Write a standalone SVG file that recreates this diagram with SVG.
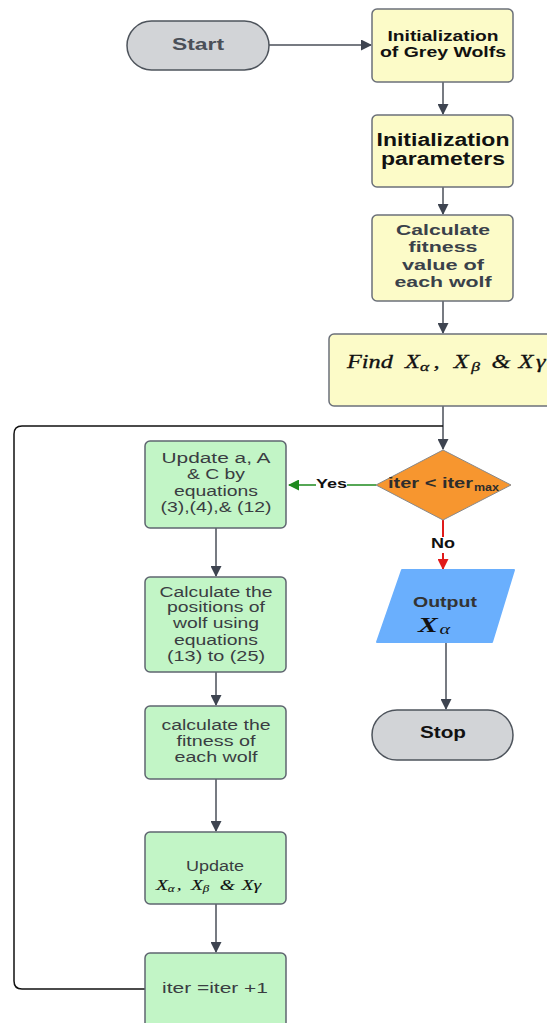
<svg xmlns="http://www.w3.org/2000/svg" width="547" height="1023" viewBox="0 0 547 1023">
<style>
.y{fill:#fcfbc8;stroke:#6b7079;stroke-width:1.5}
.g{fill:#c2f5c6;stroke:#5f6570;stroke-width:1.5}
.p{fill:#d2d4d7;stroke:#4e545c;stroke-width:1.5}
.b{font-family:"Liberation Sans",Arial,sans-serif;font-weight:bold;text-anchor:middle}
.r{font-family:"Liberation Sans",Arial,sans-serif;text-anchor:middle;fill:#3a3d42;font-size:14px}
.m{font-family:"Liberation Serif","Times New Roman",serif;font-style:italic}
.c{fill:none;stroke:#4a4f58;stroke-width:1.5}
</style>
<defs>
<marker id="a" markerWidth="11" markerHeight="11" refX="10" refY="5.5" orient="auto" markerUnits="userSpaceOnUse"><path d="M0,0 L11,5.5 L0,11 z" fill="#3e4450"/></marker>
<marker id="ag" markerWidth="11" markerHeight="11" refX="10" refY="5.5" orient="auto" markerUnits="userSpaceOnUse"><path d="M0,0 L11,5.5 L0,11 z" fill="#1f8a1f"/></marker>
<marker id="ar" markerWidth="11" markerHeight="11" refX="10" refY="5.5" orient="auto" markerUnits="userSpaceOnUse"><path d="M0,0 L11,5.5 L0,11 z" fill="#e01b1b"/></marker>
</defs>
<g id="connectors">
<path class="c" d="M269,45 H371" marker-end="url(#a)" stroke-width="1"/>
<path class="c" d="M443,82 V114" marker-end="url(#a)" stroke-width="2"/>
<path class="c" d="M443,187 V214" marker-end="url(#a)"/>
<path class="c" d="M443,301 V333" marker-end="url(#a)"/>
<path class="c" d="M443,406 V449" marker-end="url(#a)"/>
<path d="M145,989 H22 Q14,989 14,981 V434 Q14,426 22,426 H443" fill="none" stroke="#111" stroke-width="1.5"/>
<path d="M376,485 H347 M316,485 H289" fill="none" stroke="#1f8a1f" stroke-width="1.5" marker-end="url(#ag)"/>
<text x="331.5" y="488" class="b" font-size="13" fill="#111" textLength="31" lengthAdjust="spacingAndGlyphs">Yes</text>
<path d="M443,520 V537 M443,553 V569" fill="none" stroke="#e01b1b" stroke-width="2" marker-end="url(#ar)"/>
<text x="443" y="548" class="b" font-size="14" fill="#111" textLength="24" lengthAdjust="spacingAndGlyphs">No</text>
<path class="c" d="M446,642 V709" marker-end="url(#a)"/>
<path class="c" d="M216,528 V576" marker-end="url(#a)"/>
<path class="c" d="M216,672 V705" marker-end="url(#a)"/>
<path class="c" d="M216,779 V831" marker-end="url(#a)"/>
<path class="c" d="M216,904 V952" marker-end="url(#a)"/>
</g>
<g id="start">
<rect x="127" y="21" width="142" height="49" rx="24.5" class="p"/>
<text x="198" y="50" class="b" font-size="17" fill="#4a4f58" textLength="52" lengthAdjust="spacingAndGlyphs">Start</text>
</g>
<g id="init-wolves">
<rect x="372" y="9" width="141" height="73" rx="5" class="y" stroke="#111" stroke-width="2"/>
<text x="443" y="41" class="b" font-size="14" fill="#111" textLength="111" lengthAdjust="spacingAndGlyphs">Initialization</text>
<text x="443" y="57" class="b" font-size="14" fill="#111" textLength="126" lengthAdjust="spacingAndGlyphs">of Grey Wolfs</text>
</g>
<g id="init-params">
<rect x="372" y="115" width="141" height="72" rx="5" class="y"/>
<text x="443" y="146" class="b" font-size="18" fill="#111" textLength="133" lengthAdjust="spacingAndGlyphs">Initialization</text>
<text x="443" y="165" class="b" font-size="18" fill="#111" textLength="124" lengthAdjust="spacingAndGlyphs">parameters</text>
</g>
<g id="calc-fitness">
<rect x="372" y="215" width="141" height="86" rx="5" class="y"/>
<text x="443" y="235" class="b" font-size="15" fill="#3a414a" textLength="94" lengthAdjust="spacingAndGlyphs">Calculate</text>
<text x="443" y="252" class="b" font-size="15" fill="#3a414a" textLength="69" lengthAdjust="spacingAndGlyphs">fitness</text>
<text x="443" y="270" class="b" font-size="15" fill="#3a414a" textLength="82" lengthAdjust="spacingAndGlyphs">value of</text>
<text x="443" y="287" class="b" font-size="15" fill="#3a414a" textLength="97" lengthAdjust="spacingAndGlyphs">each wolf</text>
</g>
<g id="find">
<rect x="329" y="334" width="230" height="72" rx="5" class="y"/>
<g transform="translate(347,368) scale(1.35,1)">
<text class="m" font-size="18" fill="#111" stroke="#111" stroke-width="0.3"><tspan x="0" y="0">Find</tspan><tspan x="43" y="0">X</tspan><tspan x="54" y="3" font-size="13">α</tspan><tspan x="64" y="0">,</tspan><tspan x="79" y="0">X</tspan><tspan x="92" y="3" font-size="13">β</tspan><tspan x="107" y="0">&amp;</tspan><tspan x="127" y="0">X</tspan><tspan x="140" y="0">γ</tspan></text>
</g>
</g>
<g id="decision">
<path d="M443,450 L511,485 L443,520 L376,485 Z" fill="#f7962f" stroke="#888" stroke-width="1" stroke-linejoin="round"/>
<text x="388" y="488" font-family="Liberation Sans,Arial,sans-serif" font-weight="bold" font-size="14" fill="#2d2d2d" textLength="85" lengthAdjust="spacingAndGlyphs">iter &lt; iter</text>
<text x="474" y="491" font-family="Liberation Sans,Arial,sans-serif" font-weight="bold" font-size="10" fill="#2d2d2d" textLength="25" lengthAdjust="spacingAndGlyphs">max</text>
</g>
<g id="output">
<path d="M402,570 H514 L492,642 H377 Z" fill="#6aaffd" stroke="#6aaffd" stroke-width="2" stroke-linejoin="round"/>
<text x="445" y="607" class="b" font-size="15" fill="#333" textLength="64" lengthAdjust="spacingAndGlyphs">Output</text>
<g transform="translate(418,632) scale(1.35,1)">
<text class="m" font-weight="bold" fill="#111"><tspan x="0" y="0" font-size="22">X</tspan><tspan x="16" y="2" font-size="15" font-weight="normal">α</tspan></text>
</g>
</g>
<g id="stop">
<rect x="372" y="710" width="141" height="50" rx="25" class="p"/>
<text x="443" y="738" class="b" font-size="16" fill="#111" textLength="46" lengthAdjust="spacingAndGlyphs">Stop</text>
</g>
<g id="update-aAC">
<rect x="145" y="441" width="141" height="87" rx="5" class="g"/>
<text x="216" y="463" class="r" textLength="109" lengthAdjust="spacingAndGlyphs">Update  a, A</text>
<text x="216" y="479" class="r" textLength="58" lengthAdjust="spacingAndGlyphs">&amp; C by</text>
<text x="216" y="496" class="r" textLength="84" lengthAdjust="spacingAndGlyphs">equations</text>
<text x="216" y="512" class="r" textLength="111" lengthAdjust="spacingAndGlyphs">(3),(4),&amp; (12)</text>
</g>
<g id="calc-positions">
<rect x="145" y="577" width="141" height="95" rx="5" class="g"/>
<text x="216" y="597" class="r" textLength="113" lengthAdjust="spacingAndGlyphs">Calculate the</text>
<text x="216" y="612" class="r" textLength="98" lengthAdjust="spacingAndGlyphs">positions of</text>
<text x="216" y="628" class="r" textLength="86" lengthAdjust="spacingAndGlyphs">wolf using</text>
<text x="216" y="645" class="r" textLength="84" lengthAdjust="spacingAndGlyphs">equations</text>
<text x="216" y="661" class="r" textLength="98" lengthAdjust="spacingAndGlyphs">(13) to (25)</text>
</g>
<g id="calc-fitness-2">
<rect x="145" y="706" width="141" height="73" rx="5" class="g"/>
<text x="216" y="730" class="r" textLength="109" lengthAdjust="spacingAndGlyphs">calculate the</text>
<text x="216" y="746" class="r" textLength="79" lengthAdjust="spacingAndGlyphs">fitness of</text>
<text x="216" y="762" class="r" textLength="83" lengthAdjust="spacingAndGlyphs">each wolf</text>
</g>
<g id="update-x">
<rect x="145" y="832" width="141" height="72" rx="5" class="g"/>
<text x="215" y="871" class="r" font-size="13" fill="#111" textLength="58" lengthAdjust="spacingAndGlyphs">Update</text>
<g transform="translate(156,890) scale(1.3,1)">
<text class="m" font-size="15" fill="#111" stroke="#111" stroke-width="0.1"><tspan x="0" y="0">X</tspan><tspan x="9" y="2" font-size="10">α</tspan><tspan x="16" y="0">,</tspan><tspan x="27" y="0">X</tspan><tspan x="36" y="2" font-size="10">β</tspan><tspan x="49" y="0">&amp;</tspan><tspan x="66" y="0">X</tspan><tspan x="75" y="0">γ</tspan></text>
</g>
</g>
<g id="iter-inc">
<rect x="145" y="953" width="141" height="80" rx="5" class="g"/>
<text x="215" y="993" class="r" font-size="15" textLength="106" lengthAdjust="spacingAndGlyphs">iter =iter +1</text>
</g>
</svg>
